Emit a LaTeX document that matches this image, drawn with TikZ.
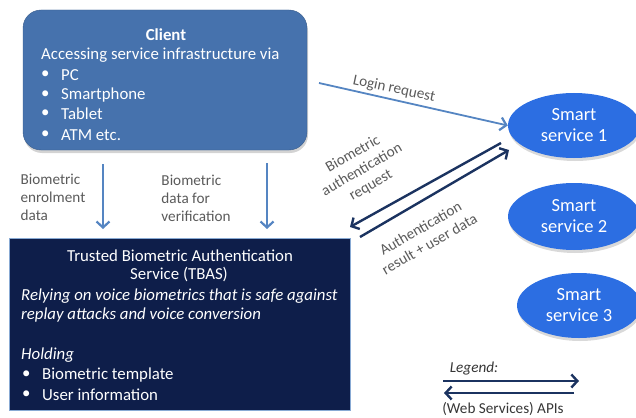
\documentclass[tikz,border=0pt]{standalone}
\usepackage{fontspec}
\setmainfont{Carlito}
\usetikzlibrary{arrows.meta,shapes.geometric,shadows}
\definecolor{clientblue}{HTML}{4672AD}
\definecolor{tbasnavy}{HTML}{0E1E4A}
\definecolor{servblue}{HTML}{2C6EE2}
\definecolor{flowblue}{HTML}{5585C2}
\definecolor{apinavy}{HTML}{1B3360}
\definecolor{labelgray}{HTML}{5A5A5A}
\tikzset{
  clientbox/.style={rectangle, rounded corners=18pt, fill=clientblue, draw=clientblue!80!black, line width=0.4pt,
    drop shadow={shadow xshift=1pt, shadow yshift=-3pt, opacity=0.35}},
  tbasbox/.style={rectangle, fill=tbasnavy, draw=flowblue!70, line width=0.8pt},
  service/.style={ellipse, fill=servblue, draw=none, text=white, font=\fontsize{18.5}{21}\selectfont, align=center,
    inner sep=0pt,
    drop shadow={shadow xshift=1pt, shadow yshift=-3pt, opacity=0.3}},
  boxtext/.style={text=white, font=\fontsize{16.8}{20}\selectfont, inner sep=0pt, anchor=west},
  boxtitle/.style={text=white, font=\fontsize{16.8}{20}\selectfont, inner sep=0pt},
  flowlabel/.style={text=labelgray, font=\fontsize{15.2}{18}\selectfont, inner sep=0pt, align=left},
  flowarrow/.style={draw=flowblue, line width=2.2pt, -{Straight Barb[length=6pt,width=13pt,line width=2.2pt]}},
  apiarrow/.style={draw=apinavy, line width=2.4pt, -{Straight Barb[length=6pt,width=13pt,line width=2.4pt]}},
}
\newcommand{\bul}{\textbullet}
\begin{document}
\begin{tikzpicture}[x=1pt,y=-1pt]
\useasboundingbox (0,0) rectangle (636,417);

% Client box and its contents
\node[clientbox, minimum width=284pt, minimum height=140pt] (client) at (165,80) {};
\node[boxtitle, font=\fontsize{16.8}{20}\selectfont\bfseries] (clienttitle) at (166,35) {Client};
\node[boxtext] (clientvia) at (41,55) {Accessing service infrastructure via};
\node[boxtext] (b1) at (41,75) {\bul};
\node[boxtext] (pc) at (61,75) {PC};
\node[boxtext] (b2) at (41,95) {\bul};
\node[boxtext] (phone) at (61,95) {Smartphone};
\node[boxtext] (b3) at (41,114) {\bul};
\node[boxtext] (tablet) at (61,114) {Tablet};
\node[boxtext] (b4) at (41,135) {\bul};
\node[boxtext] (atm) at (61,135) {ATM etc.};

% TBAS box and its contents
\node[tbasbox, minimum width=341pt, minimum height=172pt] (tbas) at (179.5,324) {};
\node[boxtitle] (tbas1) at (180,256) {Trusted Biometric Authentication};
\node[boxtitle] (tbas2) at (179,275) {Service (TBAS)};
\node[boxtext, font=\fontsize{16.8}{20}\selectfont\itshape] (rely1) at (21,296) {Relying on voice biometrics that is safe against};
\node[boxtext, font=\fontsize{16.8}{20}\selectfont\itshape] (rely2) at (21,315) {replay attacks and voice conversion};
\node[boxtext, font=\fontsize{16.8}{20}\selectfont\itshape] (holding) at (21,355) {Holding};
\node[boxtext] (b5) at (22,375) {\bul};
\node[boxtext] (tmpl) at (42,375) {Biometric template};
\node[boxtext] (b6) at (22,395) {\bul};
\node[boxtext] (uinfo) at (42,395) {User information};

% Smart services
\node[service, minimum width=132pt, minimum height=65pt] (s1) at (574,125.5) {Smart\\service 1};
\node[service, minimum width=132pt, minimum height=67pt] (s2) at (574,216.5) {Smart\\service 2};
\node[service, minimum width=124pt, minimum height=65pt] (s3) at (579,305.5) {Smart\\service 3};

% Client to TBAS data flows
\coordinate (e0) at (103,164);
\coordinate (v0) at (267,163);
\draw[flowarrow] (e0) -- (103,229);
\draw[flowarrow] (v0) -- (267,229);
\node[flowlabel] (enrol) at (53,197) {Biometric\\enrolment\\data};
\node[flowlabel] (verif) at (196,198.5) {Biometric\\data for\\verification};

% Login request
\coordinate (lg0) at (319,83);
\draw[flowarrow, line width=1.8pt] (lg0) -- (s1.west);
\node[flowlabel, rotate=-12] (login) at (394,89) {Login request};

% API calls between service 1 and TBAS
\coordinate (q0) at (501,143);
\coordinate (q1) at (350,227);
\coordinate (r0) at (360,237);
\coordinate (r1) at (509,150);
\draw[apiarrow] (q0) -- (q1);
\draw[apiarrow] (r0) -- (r1);
\node[flowlabel, align=center, rotate=30] (bioreq) at (362,170) {Biometric\\authentication\\request};
\node[flowlabel, align=center, rotate=30] (authres) at (425,236) {Authentication\\result + user data};

% Legend
\node[flowlabel, font=\fontsize{15.2}{18}\selectfont\itshape, text=labelgray!60!black] (legend) at (474,369) {Legend:};
\coordinate (la0) at (443,381);
\coordinate (la1) at (579,381);
\coordinate (lb0) at (574,393);
\coordinate (lb1) at (444,393);
\draw[apiarrow] (la0) -- (la1);
\draw[apiarrow] (lb0) -- (lb1);
\node[flowlabel, text=labelgray!60!black] (apis) at (503,408.5) {(Web Services) APIs};
\end{tikzpicture}
\end{document}
